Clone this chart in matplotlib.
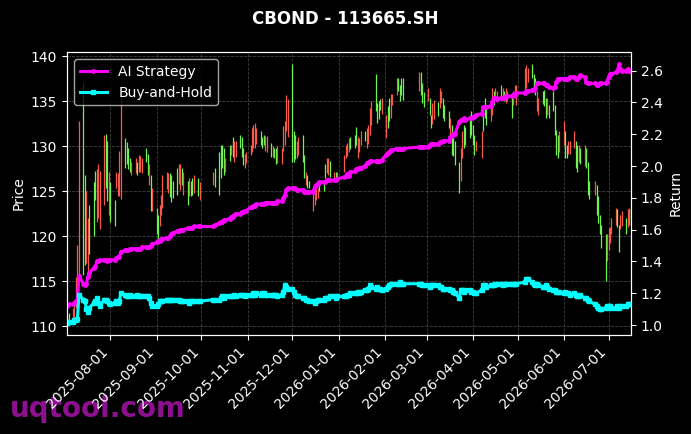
import matplotlib
matplotlib.use("Agg")
import matplotlib.pyplot as plt
import matplotlib.dates as mdates
import numpy as np
import pandas as pd

# Trading calendar (weekdays minus exchange holidays)
START = "2025-07-03"
END = "2026-07-16"
HOLIDAYS = (list(pd.date_range("2025-10-01", "2025-10-08")) +
            list(pd.date_range("2026-01-01", "2026-01-02")) +
            list(pd.date_range("2026-02-16", "2026-02-23")) +
            [pd.Timestamp("2026-04-06")] +
            list(pd.date_range("2026-05-01", "2026-05-05")) +
            [pd.Timestamp("2026-06-19")])

# Daily high / low of the bond price, month by month
price_high = [
    # 2025-07
    111.2, 111.5, 112.0, 112.6, 115.5, 119.0, 132.8, 137.0, 126.8, 125.0, 122.0, 123.5, 126.0, 127.3, 127.5, 128.0, 127.3, 131.3, 131.4, 130.6, 127.2,
    # 2025-08
    126.0, 124.0, 127.2, 127.0, 129.5, 136.1, 130.9, 130.5, 129.8, 128.7, 128.3, 128.7, 128.3, 129.0, 128.9, 128.7, 129.8, 129.2, 128.0, 126.8, 125.4,
    # 2025-09
    123.1, 122.4, 123.5, 124.6, 126.8, 127.2, 127.0, 127.0, 126.8, 126.1, 127.6, 128.0, 128.0, 127.6, 127.2, 126.1, 126.5, 126.1, 126.5, 126.8, 126.5, 126.0,
    # 2025-10
    127.2, 127.6, 129.4, 130.2, 130.2, 129.8, 128.7, 130.2, 130.2, 131.0, 130.6, 130.6, 131.3, 131.0, 129.8, 129.2, 129.4,
    # 2025-11
    130.2, 132.0, 132.4, 132.6, 132.0, 131.7, 131.0, 131.3, 131.1, 131.2, 130.4, 130.0, 129.8, 129.8, 130.0, 129.8, 132.3, 132.8, 135.7, 135.3,
    # 2025-12
    139.1, 131.7, 131.3, 130.6, 131.0, 131.3, 129.0, 127.2, 126.8, 126.1, 125.0, 125.4, 125.3, 125.4, 126.1, 126.1, 128.0, 128.7, 128.7, 128.4, 127.2, 127.2, 127.2,
    # 2026-01
    129.0, 130.2, 130.4, 130.9, 131.0, 131.3, 132.1, 131.0, 130.9, 131.7, 131.7, 132.0, 132.4, 134.3, 135.0, 138.0, 134.8, 135.0, 135.3, 135.4,
    # 2026-02
    133.5, 134.5, 135.4, 135.8, 135.8, 137.6, 137.6, 136.8, 137.6, 137.6, 138.3, 138.3, 137.0, 136.0,
    # 2026-03
    136.5, 135.4, 133.5, 134.8, 135.2, 134.9, 136.5, 136.1, 135.4, 134.6, 133.9, 133.1, 132.4, 131.5, 130.6, 128.3, 129.8, 131.7, 132.4, 132.1, 133.5, 133.9,
    # 2026-04
    132.4, 131.3, 130.6, 131.7, 134.3, 135.4, 134.6, 135.0, 136.5, 136.1, 136.5, 136.1, 136.8, 136.5, 136.1, 136.5, 136.1, 135.4, 136.1, 136.8, 136.8,
    # 2026-05
    138.7, 139.0, 138.7, 139.1, 138.0, 137.6, 136.1, 135.4, 136.1, 136.3, 135.4, 135.4, 134.6, 136.1, 134.6, 131.8, 131.3, 131.7,
    # 2026-06
    132.8, 131.7, 130.2, 130.6, 130.6, 131.7, 130.6, 130.2, 130.2, 129.8, 130.2, 129.8, 128.3, 126.1, 126.1, 125.7, 124.5, 122.4, 121.3, 120.2, 120.2,
    # 2026-07
    120.9, 121.0, 122.0, 123.1, 123.0, 121.3, 122.4, 122.8, 122.0, 123.0, 123.1, 123.0,
]
price_low = [
    110.3, 110.5, 110.8, 111.0, 112.0, 114.5, 115.0, 115.7, 116.8, 117.0, 115.7, 118.0, 120.0, 124.0, 121.6, 122.0, 120.8, 123.5, 125.4, 123.9, 122.4,
    121.6, 121.2, 125.4, 124.5, 124.5, 124.2, 127.6, 128.0, 127.5, 127.2, 126.8, 127.0, 126.8, 127.2, 127.2, 127.0, 128.3, 126.8, 125.7, 122.8, 122.8,
    120.2, 119.1, 121.2, 122.4, 123.1, 125.3, 124.8, 124.4, 123.8, 124.3, 124.6, 125.8, 125.2, 125.7, 124.6, 123.5, 124.5, 124.5, 124.6, 124.8, 124.5, 124.0,
    125.7, 125.5, 124.6, 126.5, 127.6, 126.8, 127.2, 128.4, 129.0, 128.8, 128.3, 128.8, 129.8, 128.8, 127.9, 127.6, 128.2,
    129.0, 129.4, 129.8, 129.8, 130.3, 130.2, 129.8, 130.2, 129.5, 129.4, 128.8, 128.8, 128.7, 128.0, 128.2, 128.0, 129.5, 130.2, 131.7, 131.0,
    128.3, 128.3, 128.6, 128.7, 129.0, 128.3, 126.5, 125.7, 125.4, 125.4, 122.8, 123.5, 124.0, 124.3, 125.0, 125.0, 126.5, 127.0, 126.8, 126.6, 126.3, 126.4, 126.1,
    127.2, 128.7, 128.9, 129.4, 129.7, 129.8, 130.2, 128.7, 129.4, 130.2, 130.6, 129.8, 130.3, 131.3, 132.4, 133.9, 132.6, 133.0, 134.0, 133.6,
    130.9, 132.0, 132.8, 133.2, 134.6, 135.7, 136.2, 135.0, 135.7, 135.2, 136.1, 135.7, 134.8, 134.4,
    135.0, 133.5, 132.0, 132.5, 133.0, 133.4, 134.3, 134.8, 133.1, 132.8, 132.0, 130.6, 129.0, 128.9, 127.9, 124.8, 126.1, 128.7, 129.8, 130.2, 130.9, 131.3,
    130.2, 129.0, 129.5, 128.7, 131.7, 133.1, 132.4, 132.8, 133.5, 134.6, 135.3, 134.9, 135.4, 135.4, 135.0, 134.8, 135.0, 133.1, 134.6, 135.4, 134.6,
    136.1, 136.5, 137.2, 137.6, 136.1, 135.7, 133.9, 133.5, 134.7, 134.5, 133.1, 133.5, 133.1, 133.9, 131.3, 129.0, 128.7, 129.4,
    130.2, 128.7, 128.7, 129.2, 129.2, 129.8, 127.6, 127.2, 128.3, 128.0, 127.8, 127.6, 124.6, 124.2, 124.6, 122.4, 121.5, 120.2, 118.7, 115.0, 117.2,
    118.5, 119.2, 120.2, 121.3, 121.0, 118.3, 120.8, 121.2, 120.2, 121.0, 121.3, 121.5,
]
# 1 = green candle, 0 = red candle
candle_up = [
    0, 1, 0, 0, 0, 0, 0, 1, 1, 0, 0, 1, 1, 1, 0, 0, 0, 0, 1, 1, 0,
    1, 1, 0, 0, 0, 0, 1, 1, 1, 1, 0, 0, 1, 0, 0, 0, 1, 1, 0, 1, 0,
    1, 1, 0, 0, 0, 0, 0, 1, 1, 1, 1, 0, 0, 1, 0, 1, 0, 1, 1, 0, 1, 0,
    0, 1, 1, 1, 1, 1, 0, 1, 0, 1, 0, 0, 1, 1, 1, 0, 0,
    0, 0, 0, 0, 0, 1, 1, 1, 0, 0, 1, 0, 1, 1, 0, 0, 0, 0, 0, 0,
    1, 1, 1, 0, 0, 1, 1, 0, 1, 1, 0, 0, 0, 0, 1, 1, 1, 0, 0, 1, 0, 1, 0,
    0, 0, 0, 0, 1, 1, 1, 0, 0, 0, 1, 0, 0, 0, 0, 1, 1, 1, 1, 0,
    0, 1, 1, 0, 0, 0, 1, 1, 1, 1, 0, 1, 1, 1,
    0, 1, 1, 0, 0, 1, 0, 0, 1, 1, 1, 0, 1, 1, 1, 1, 0, 0, 1, 1, 1, 1,
    1, 1, 0, 0, 1, 1, 1, 0, 0, 1, 0, 0, 1, 0, 1, 0, 0, 1, 0, 0, 0,
    0, 0, 0, 1, 1, 1, 0, 0, 1, 1, 1, 0, 1, 1, 1, 1, 1, 0,
    0, 1, 1, 0, 0, 0, 1, 1, 0, 1, 0, 1, 1, 1, 0, 1, 1, 1, 1, 1, 0,
    0, 0, 0, 0, 1, 1, 0, 0, 1, 0, 0, 1,
]

# Cumulative return curves
ai_strategy = [
    1.12, 1.13, 1.13, 1.14, 1.15, 1.16, 1.31, 1.26, 1.25, 1.26, 1.30, 1.33, 1.36, 1.37, 1.40, 1.40, 1.41, 1.41, 1.41, 1.40, 1.41,
    1.41, 1.41, 1.42, 1.43, 1.43, 1.46, 1.47, 1.47, 1.47, 1.48, 1.48, 1.48, 1.48, 1.48, 1.48, 1.49, 1.49, 1.49, 1.49, 1.50, 1.51,
    1.52, 1.53, 1.53, 1.54, 1.54, 1.55, 1.55, 1.56, 1.57, 1.58, 1.59, 1.59, 1.60, 1.60, 1.60, 1.61, 1.61, 1.61, 1.61, 1.62, 1.62, 1.62,
    1.62, 1.63, 1.64, 1.65, 1.65, 1.66, 1.66, 1.67, 1.68, 1.68, 1.69, 1.70, 1.70, 1.71, 1.71, 1.72, 1.72,
    1.74, 1.74, 1.75, 1.75, 1.76, 1.76, 1.76, 1.76, 1.77, 1.77, 1.77, 1.77, 1.77, 1.77, 1.78, 1.78, 1.80, 1.82, 1.85, 1.86,
    1.86, 1.86, 1.86, 1.85, 1.85, 1.85, 1.84, 1.84, 1.84, 1.84, 1.84, 1.87, 1.88, 1.89, 1.90, 1.90, 1.90, 1.91, 1.91, 1.91, 1.91, 1.91, 1.92,
    1.93, 1.94, 1.95, 1.94, 1.96, 1.97, 1.98, 1.98, 1.99, 1.99, 2.00, 2.02, 2.02, 2.03, 2.03, 2.03, 2.03, 2.03, 2.03, 2.04,
    2.07, 2.08, 2.09, 2.10, 2.10, 2.11, 2.11, 2.11, 2.11, 2.11, 2.12, 2.12, 2.12, 2.12,
    2.12, 2.13, 2.14, 2.14, 2.14, 2.14, 2.15, 2.15, 2.16, 2.16, 2.16, 2.18, 2.19, 2.20, 2.20, 2.28, 2.29, 2.29, 2.30, 2.29, 2.30, 2.30,
    2.31, 2.31, 2.32, 2.33, 2.37, 2.37, 2.37, 2.38, 2.40, 2.43, 2.43, 2.42, 2.43, 2.43, 2.43, 2.44, 2.44, 2.44, 2.45, 2.45, 2.46,
    2.46, 2.47, 2.47, 2.48, 2.48, 2.49, 2.52, 2.52, 2.52, 2.52, 2.51, 2.51, 2.50, 2.49, 2.50, 2.53, 2.55, 2.55,
    2.55, 2.55, 2.55, 2.55, 2.56, 2.56, 2.55, 2.55, 2.56, 2.57, 2.56, 2.53, 2.52, 2.52, 2.52, 2.51, 2.51, 2.52, 2.52, 2.52, 2.53,
    2.56, 2.58, 2.58, 2.59, 2.60, 2.64, 2.61, 2.60, 2.60, 2.61, 2.60, 2.60,
]
buy_hold = [
    1.01, 1.02, 1.02, 1.03, 1.03, 1.04, 1.19, 1.16, 1.15, 1.10, 1.08, 1.11, 1.14, 1.15, 1.17, 1.14, 1.12, 1.16, 1.16, 1.15, 1.14,
    1.13, 1.14, 1.15, 1.14, 1.15, 1.20, 1.19, 1.18, 1.18, 1.19, 1.18, 1.18, 1.19, 1.18, 1.18, 1.18, 1.18, 1.18, 1.17, 1.14, 1.12,
    1.12, 1.13, 1.15, 1.15, 1.15, 1.16, 1.16, 1.16, 1.16, 1.16, 1.16, 1.16, 1.15, 1.15, 1.15, 1.15, 1.14, 1.15, 1.15, 1.15, 1.15, 1.15,
    1.16, 1.16, 1.16, 1.17, 1.18, 1.17, 1.18, 1.18, 1.18, 1.18, 1.19, 1.18, 1.19, 1.19, 1.19, 1.18, 1.19,
    1.19, 1.19, 1.20, 1.19, 1.20, 1.19, 1.20, 1.20, 1.19, 1.19, 1.19, 1.19, 1.19, 1.19, 1.18, 1.19, 1.21, 1.25, 1.24, 1.23,
    1.23, 1.21, 1.19, 1.18, 1.18, 1.17, 1.17, 1.16, 1.16, 1.15, 1.15, 1.14, 1.15, 1.16, 1.16, 1.16, 1.17, 1.17, 1.17, 1.18, 1.18, 1.17, 1.18,
    1.18, 1.18, 1.19, 1.19, 1.20, 1.20, 1.20, 1.21, 1.20, 1.21, 1.22, 1.22, 1.23, 1.25, 1.24, 1.23, 1.24, 1.23, 1.23, 1.22,
    1.23, 1.24, 1.25, 1.26, 1.26, 1.26, 1.26, 1.27, 1.26, 1.26, 1.26, 1.26, 1.25, 1.25,
    1.25, 1.24, 1.25, 1.25, 1.25, 1.25, 1.24, 1.24, 1.23, 1.23, 1.23, 1.22, 1.22, 1.21, 1.20, 1.17, 1.22, 1.22, 1.21, 1.22, 1.22, 1.21,
    1.21, 1.20, 1.20, 1.22, 1.25, 1.25, 1.24, 1.25, 1.25, 1.25, 1.26, 1.26, 1.26, 1.25, 1.26, 1.26, 1.26, 1.26, 1.26, 1.26, 1.26,
    1.27, 1.29, 1.29, 1.27, 1.26, 1.25, 1.26, 1.25, 1.24, 1.24, 1.25, 1.24, 1.23, 1.22, 1.22, 1.21, 1.21, 1.21,
    1.20, 1.21, 1.20, 1.20, 1.19, 1.20, 1.19, 1.18, 1.18, 1.19, 1.17, 1.17, 1.16, 1.15, 1.13, 1.12, 1.11, 1.10, 1.10, 1.11, 1.12,
    1.12, 1.12, 1.11, 1.11, 1.12, 1.11, 1.12, 1.12, 1.12, 1.13, 1.13, 1.13,
]

TITLE = "CBOND - 113665.SH"
UP_COLOR = "#6cf552"
DOWN_COLOR = "#f85a48"

dates = pd.bdate_range(START, END)
dates = dates[~dates.isin(HOLIDAYS)]
x = mdates.date2num(dates.to_pydatetime())

plt.style.use("dark_background")
fig = plt.figure(figsize=(6.91, 4.34), dpi=100)
ax = fig.add_axes([0.097, 0.229, 0.816, 0.651])

colors = [UP_COLOR if u else DOWN_COLOR for u in candle_up]
ax.vlines(x, price_low, price_high, colors=colors, linewidth=0.9)
ax.set_ylim(109.07, 140.48)
ax.set_xlim(x[0], x[-1])
ax.set_ylabel("Price", fontsize=10)
ax.grid(True, linestyle="--", linewidth=0.6, color="gray", alpha=0.5)

ax.xaxis.set_major_locator(mdates.MonthLocator())
ax.xaxis.set_major_formatter(mdates.DateFormatter("%Y-%m-%d"))
plt.setp(ax.get_xticklabels(), rotation=45, ha="right")

ax2 = ax.twinx()
ax2.plot(x, ai_strategy, color="magenta", linewidth=2.2, marker="o", markersize=2.5, label="AI Strategy")
ax2.plot(x, buy_hold, color="cyan", linewidth=2.2, marker="s", markersize=2.5, label="Buy-and-Hold")
ax2.set_ylim(0.94, 2.717)
ax2.set_ylabel("Return", fontsize=10)
ax2.legend(loc="upper left", fontsize=10, facecolor="black")

fig.suptitle(TITLE, fontsize=12, fontweight="bold", y=0.978)
fig.text(0.015, 0.04, "uqtool.com", fontsize=20, fontweight="bold", color="#8e1090", zorder=-1)

fig.savefig("out.png", dpi=100, facecolor="black")
